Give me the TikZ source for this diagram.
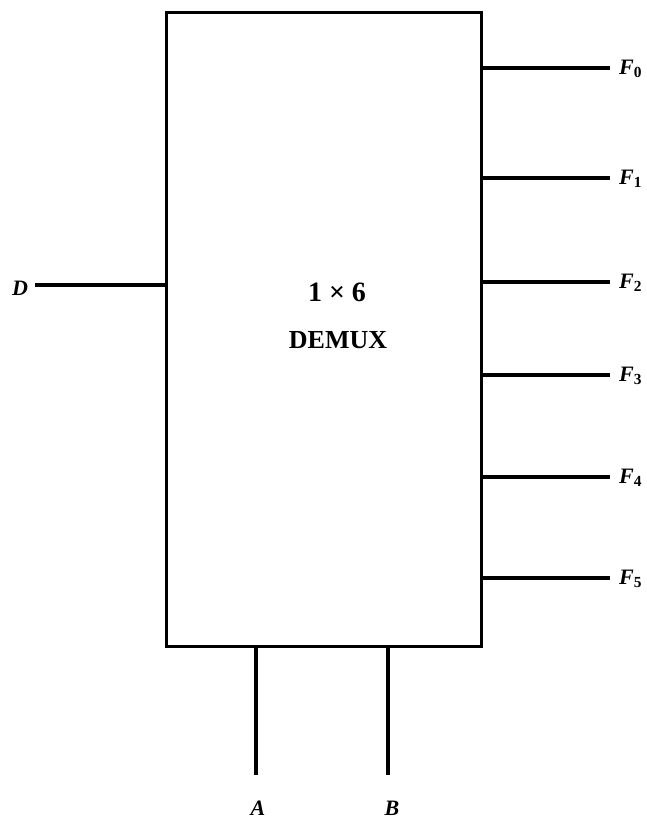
\documentclass[tikz,border=0pt]{standalone}
\usepackage{fontspec}
\setmainfont{Liberation Serif}
\begin{document}
\begin{tikzpicture}[x=1pt,y=-1pt,
  wire/.style={line width=3.2pt},
  lbl/.style={font=\fontsize{22}{24}\selectfont\bfseries\itshape, inner sep=0pt}]
\useasboundingbox (0,0) rectangle (646,819);
\node[draw, line width=3.2pt, minimum width=315pt, minimum height=634pt, inner sep=0pt, anchor=north west] (box) at (165,11) {};
\node[font=\fontsize{28}{30}\selectfont\bfseries, inner sep=0pt] (t1) at (337,292) {1 × 6};
\node[font=\fontsize{26}{28}\selectfont\bfseries, inner sep=0pt] (t2) at (338,340) {DEMUX};
% input D
\coordinate (dE) at (box.west |- 0,285);
\coordinate (dS) at (35,285);
\draw[wire] (dS) -- (dE);
\node[lbl] (D) at (20,288) {D};
% outputs
\foreach \i/\y in {0/68,1/178,2/282,3/375,4/477,5/578}{
  \coordinate (o\i) at (box.east |- 0,\y);
  \coordinate (e\i) at (610,\y);
  \draw[wire] (o\i) -- (e\i);
  \node[lbl, anchor=west] (F\i) at (619,\y+1) {F\textsubscript{\upshape\i}};
}
% selects
\coordinate (aS) at (box.south -| 256,0);
\coordinate (aE) at (256,775);
\coordinate (bS) at (box.south -| 388,0);
\coordinate (bE) at (388,775);
\draw[wire] (aS) -- (aE);
\draw[wire] (bS) -- (bE);
\node[lbl] (A) at (258,808) {A};
\node[lbl] (B) at (392,808) {B};
\end{tikzpicture}
\end{document}
